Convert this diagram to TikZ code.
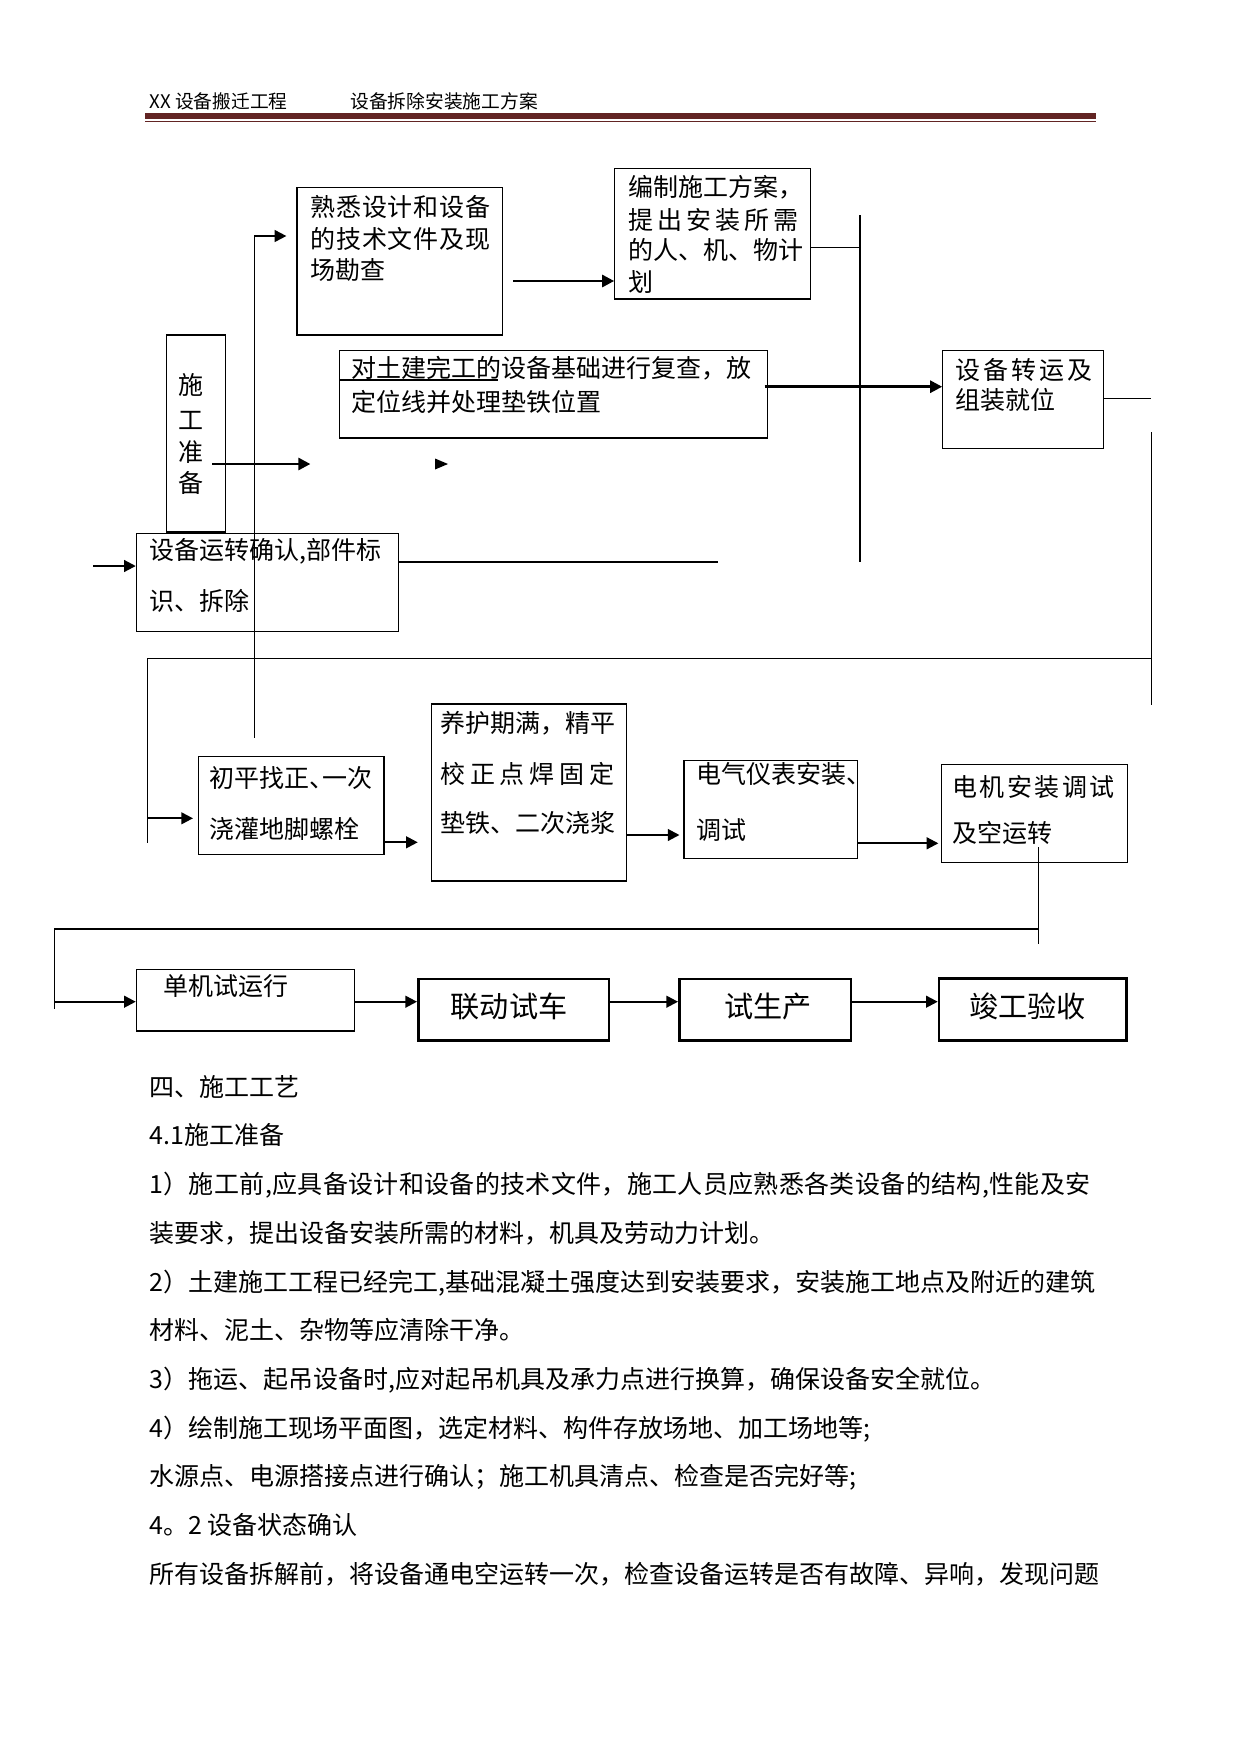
\documentclass[tikz,border=0pt]{standalone}
\usepackage{fontspec}
\newfontfamily\cjk{Noto Sans CJK SC}
\usetikzlibrary{arrows.meta,fit}
\newdimen\pxu \pxu=0.48pt
\makeatletter
\def\spl@#1{\ifx\relax#1\else#1\hfil\expandafter\spl@\fi}
\newcommand\spreadto[2]{\hbox to #1{\spl@#2\relax\unskip}}
\makeatother
\definecolor{hdr}{RGB}{98,36,35}
\newcommand\mkbox[6]{%
  \coordinate (#2-nw) at (#3,#4);
  \coordinate (#2-se) at (#5,#6);
  \node[#1,fit=(#2-nw)(#2-se)] (#2) {};}
\begin{document}
\begin{tikzpicture}[x=0.48pt,y=-0.48pt,
  box/.style={draw,line width=0.5pt,inner sep=0pt},
  boldbox/.style={draw,line width=1.2pt,inner sep=0pt},
  txt/.style={inner sep=0pt,anchor=base west,font=\cjk\fontsize{12pt}{14pt}\selectfont},
  ctxt/.style={inner sep=0pt,anchor=base,font=\cjk\fontsize{12pt}{14pt}\selectfont},
  bigtxt/.style={inner sep=0pt,anchor=base,font=\cjk\fontsize{14pt}{17pt}\selectfont},
  hdrtxt/.style={inner sep=0pt,anchor=base west,font=\cjk\fontsize{9pt}{11pt}\selectfont},
  thinln/.style={line width=0.5pt},
  midln/.style={line width=1pt},
  arr/.style={line width=1pt,-{Triangle[length=5.6pt,width=5.6pt]}},
  bigarr/.style={line width=1.3pt,-{Triangle[length=5.8pt,width=5.8pt]}},
]
\fill[white] (0,0) rectangle (1241,1754);
\useasboundingbox (0,0) rectangle (1241,1754);

% header
\node[hdrtxt] (h1) at (149,108) {XX 设备搬迁工程};
\node[hdrtxt] (h2) at (350,108) {设备拆除安装施工方案};
\fill[hdr] (145,112.7) rectangle (1096,118.7);
\draw[hdr,line width=0.5pt] (145,121.5) -- (1096,121.5);

% boxes
\mkbox{box}{prep}{166.4}{335}{225.7}{532}
\mkbox{box}{A}{297}{187.3}{502.5}{335}
\mkbox{box}{B}{614.7}{168.3}{810.7}{299}
\mkbox{box}{C}{339.6}{350.7}{767.8}{438}
\mkbox{box}{D}{942.7}{350.7}{1103.4}{448.3}
\mkbox{box}{E}{136.3}{533.3}{398.3}{631.3}
\mkbox{box}{F}{198.7}{756.3}{384}{854.3}
\mkbox{box}{G}{431.3}{704}{626.7}{881}
\mkbox{box}{H}{684}{760.3}{857.3}{858.3}
\mkbox{box}{I}{941.3}{764.3}{1127.7}{862.3}
\mkbox{box}{J}{136.3}{969.3}{354.3}{1031}
\mkbox{boldbox}{K}{418.3}{979}{609}{1040.7}
\mkbox{boldbox}{L}{679.3}{979}{851}{1040.7}
\mkbox{boldbox}{M}{939}{978.3}{1126.7}{1040.7}

% box texts
\node[ctxt] (prep1) at (190.7,394.5) {施};
\node[ctxt] (prep2) at (190.7,429.5) {工};
\node[ctxt] (prep3) at (190.7,461.2) {准};
\node[ctxt] (prep4) at (190.7,492.8) {备};

\node[txt] (A1) at (310,216.2) {\spreadto{180\pxu}{熟悉设计和设备}};
\node[txt] (A2) at (310,248.5) {\spreadto{180\pxu}{的技术文件及现}};
\node[txt] (A3) at (310,279.5) {场勘查};

\node[txt] (B1) at (628,196.2) {编制施工方案，};
\node[txt] (B2) at (628,229.5) {\spreadto{170\pxu}{提出安装所需}};
\node[txt] (B3) at (628,259.5) {的人、机、物计};
\node[txt] (B4) at (628,291.2) {划};

\node[txt] (C1) at (351.4,377.8) {对土建完工的设备基础进行复查，放};
\node[txt] (C2) at (351.4,411.2) {定位线并处理垫铁位置};
\coordinate (ul-l) at (339.6,380);
\coordinate (ul-r) at (497.9,380);
\draw[line width=0.7pt] (ul-l) -- (ul-r);

\node[txt] (D1) at (955.3,379.5) {\spreadto{137\pxu}{设备转运及}};
\node[txt] (D2) at (955.3,409.5) {组装就位};

\node[txt] (E1) at (149.2,559.5) {设备运转确认,部件标};
\node[txt] (E2) at (149.2,610.5) {识、拆除};

\node[txt] (F1) at (209.5,787.8) {初平找正\makebox[0.5em][l]{、}一次};
\node[txt] (F2) at (209.5,838.8) {浇灌地脚螺栓};

\node[txt] (G1) at (440,732.8) {养护期满，精平};
\node[txt] (G2) at (440,783.8) {\spreadto{174\pxu}{校正点焊固定}};
\node[txt] (G3) at (440,832.2) {垫铁、二次浇浆};

\node[txt] (H1) at (696.4,783.5) {电气仪表安装、};
\node[txt] (H2) at (696.4,839.5) {调试};

\node[txt] (I1) at (952,796.2) {\spreadto{162\pxu}{电机安装调试}};
\node[txt] (I2) at (952,842.8) {及空运转};

\node[txt] (J1) at (162.7,995.5) {单机试运行};
\node[bigtxt] (K1) at (509,1017.8) {联动试车};
\node[bigtxt] (L1) at (768.4,1017.8) {试生产};
\node[bigtxt] (M1) at (1027.5,1017.8) {竣工验收};

% connectors, upper part
\coordinate (vL-top) at (254.3,236);
\coordinate (vL-bot) at (254.3,737.7);
\coordinate (vL-tip) at (286.4,236);
\draw[thinln] (vL-bot) -- (vL-top);
\draw[line width=0.9pt,-{Triangle[length=5.6pt,width=5.6pt]}] (vL-top) -- (vL-tip);

\coordinate (ab-s) at (513,281);
\draw[bigarr] (ab-s) -- (ab-s -| B.west);

\coordinate (bus-top) at (860.4,215);
\coordinate (bus-bot) at (860.4,561.7);
\coordinate (bj) at (860.4,247.3);
\draw[thinln] (bj -| B.east) -- (bj);
\draw[midln] (bus-top) -- (bus-bot);

\coordinate (cd) at (764.7,386.7);
\draw[bigarr] (cd) -- (cd -| D.west);

\coordinate (dr) at (1151.3,398.3);
\draw[thinln] (dr -| D.east) -- (dr);

\coordinate (rv-top) at (1151.5,432);
\coordinate (rv-bot) at (1151.5,705);
\coordinate (rv-a) at (1151.5,487);
\coordinate (rv-b) at (1151.5,641);
\draw[thinln] (rv-top) -- (rv-bot);
\draw[line width=0.75pt] (rv-a) -- (rv-b);

\coordinate (lh-l) at (147.3,658.3);
\coordinate (lh-r) at (1151.5,658.3);
\coordinate (lv-bot) at (147.3,842.7);
\draw[thinln] (lh-l) -- (lh-r);
\draw[thinln] (lh-l) -- (lv-bot);
\coordinate (lf) at (147.3,818.3);
\coordinate (lf-tip) at (193,818.3);
\draw[arr] (lf) -- (lf-tip);

\coordinate (pa-s) at (212,464);
\coordinate (pa-t) at (310.4,464);
\draw[bigarr] (pa-s) -- (pa-t);
\coordinate (lone) at (448,464);
\fill (lone) -- ++(-13,-5.5) -- ++(0,11) -- cycle;

\coordinate (ein) at (93.4,566);
\draw[arr] (ein) -- (ein -| E.west);
\coordinate (eout) at (717.5,562);
\draw[midln] (eout -| E.east) -- (eout);

% lower row
\coordinate (fg) at (417.8,842.3);
\draw[arr] (fg -| F.east) -- (fg);
\coordinate (gh) at (679.5,835);
\draw[arr] (gh -| G.east) -- (gh);
\coordinate (hi) at (938.4,843.3);
\draw[arr] (hi -| H.east) -- (hi);

\coordinate (id-top) at (1038.3,847.3);
\coordinate (id-bot) at (1038.3,944.3);
\draw[thinln] (id-top) -- (id-bot);
\coordinate (bh-l) at (54.3,929);
\coordinate (bh-r) at (1038.3,929);
\draw[midln] (bh-l) -- (bh-r);
\coordinate (bv-bot) at (54.3,1009);
\draw[thinln] (bh-l) -- (bv-bot);
\coordinate (bjn) at (54.3,1001.7);
\draw[arr] (bjn) -- (bjn -| J.west);
\coordinate (row) at (0,1001.7);
\draw[arr] (row -| J.east) -- (row -| K.west);
\draw[arr] (row -| K.east) -- (row -| L.west);
\draw[arr] (row -| L.east) -- (row -| M.west);

% body text
\node[txt] (t1) at (149,1096.2) {四、施工工艺};
\node[txt] (t2) at (149,1144.9) {4.1施工准备};
\node[txt] (t3) at (149,1193.6) {\spreadto{941\pxu}{1）施工前,应具备设计和设备的技术文件，施工人员应熟悉各类设备的结构,性能及安}};
\node[txt] (t4) at (149,1242.3) {装要求，提出设备安装所需的材料，机具及劳动力计划。};
\node[txt] (t5) at (149,1291) {2）土建施工工程已经完工,基础混凝土强度达到安装要求，安装施工地点及附近的建筑};
\node[txt] (t6) at (149,1339.7) {材料、泥土、杂物等应清除干净。};
\node[txt] (t7) at (149,1388.4) {3）拖运、起吊设备时,应对起吊机具及承力点进行换算，确保设备安全就位。};
\node[txt] (t8) at (149,1437.1) {4）绘制施工现场平面图，选定材料、构件存放场地、加工场地等;};
\node[txt] (t9) at (149,1485.8) {水源点、电源搭接点进行确认；施工机具清点、检查是否完好等;};
\node[txt] (t10) at (149,1534.5) {4。2 设备状态确认};
\node[txt] (t11) at (149,1583.2) {所有设备拆解前，将设备通电空运转一次，检查设备运转是否有故障、异响，发现问题};
\end{tikzpicture}
\end{document}
